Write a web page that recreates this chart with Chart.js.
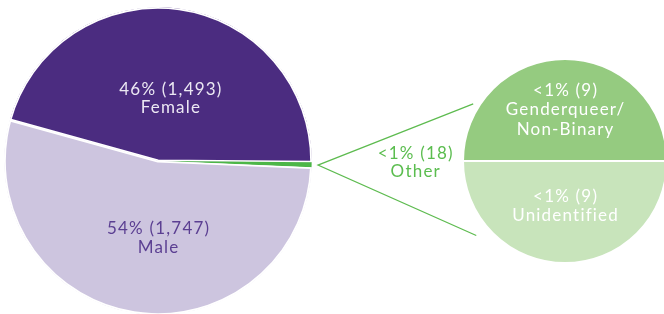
<!DOCTYPE html>
<html>
<head>
<meta charset="utf-8">
<script src="https://cdn.jsdelivr.net/npm/chart.js@4.4.1/dist/chart.umd.min.js"></script>
<style>
  html, body { margin: 0; padding: 0; background: #fff; overflow: hidden; }
  #wrap { position: relative; width: 664px; height: 314px; }
  canvas { position: absolute; left: 0; top: 0; }
</style>
</head>
<body>
<div id="wrap">
  <canvas id="mainChart" width="664" height="314"></canvas>
  <canvas id="otherChart" width="664" height="314"></canvas>
</div>
<script>
// data
const genders = ['Female', 'Other', 'Male'];
const genderCounts = [1493, 18, 1747];
const genderPct = ['46%', '<1%', '54%'];

const otherTypes = ['Genderqueer/\nNon-Binary', 'Unidentified'];
const otherCounts = [9, 9];
const otherPct = ['<1%', '<1%'];

const FONT = '400 17px Lato';

function fmt(n) { return n.toLocaleString('en-US'); }

function drawBlock(ctx, lines, x, y, color, lh) {
  ctx.save();
  ctx.font = FONT;
  ctx.letterSpacing = '1.2px';
  ctx.fillStyle = color;
  ctx.textAlign = 'center';
  ctx.textBaseline = 'middle';
  const top = y - (lines.length - 1) * lh / 2;
  // letterSpacing adds trailing space, nudge back by half of it
  lines.forEach((l, i) => ctx.fillText(l, x + 0.6, top + i * lh));
  ctx.restore();
}

// label placement, in units of the pie radius from its centre
const mainLabelPos = [{dx: 0.08, dy: -0.405, color: '#ece8f3'}, null, {dx: 0, dy: 0.5, color: '#5b3f92'}];
const otherLabelPos = [{dx: 0, dy: -0.5}, {dx: 0, dy: 0.44}];

const mainLabels = {
  id: 'mainLabels',
  afterDatasetsDraw(chart) {
    const ctx = chart.ctx;
    chart.getDatasetMeta(0).data.forEach((arc, i) => {
      const p = mainLabelPos[i];
      if (!p) return;
      const r = arc.outerRadius;
      drawBlock(ctx, [genderPct[i] + ' (' + fmt(genderCounts[i]) + ')', genders[i]],
        arc.x + p.dx * r, arc.y + p.dy * r, p.color, 18.5);
    });
  }
};

const mainChart = new Chart(document.getElementById('mainChart'), {
  type: 'pie',
  data: {
    labels: genders,
    datasets: [{
      data: genderCounts,
      backgroundColor: ['#4b2c80', '#4cb648', '#cdc5df'],
      borderColor: '#ffffff',
      borderWidth: [1.5, 0, 1.5],
      borderAlign: 'inner'
    }]
  },
  options: {
    responsive: false,
    animation: false,
    radius: 154,
    rotation: -74.5,
    layout: { padding: { left: 0, right: 348, top: 8, bottom: 0 } },
    plugins: { legend: { display: false }, tooltip: { enabled: false } }
  },
  plugins: [mainLabels]
});

const otherLabels = {
  id: 'otherLabels',
  afterDatasetsDraw(chart) {
    const ctx = chart.ctx;
    const arcs = chart.getDatasetMeta(0).data;
    arcs.forEach((arc, i) => {
      const p = otherLabelPos[i];
      const r = arc.outerRadius;
      const lines = [otherPct[i] + ' (' + otherCounts[i] + ')'].concat(otherTypes[i].split('\n'));
      drawBlock(ctx, lines, arc.x + p.dx * r, arc.y + p.dy * r, '#ffffff', 19.5);
    });

    // connector from the Other slice to the breakdown pie
    const src = mainChart.getDatasetMeta(0).data[1];
    const mid = (src.startAngle + src.endAngle) / 2;
    const sx = src.x + (src.outerRadius + 6) * Math.cos(mid);
    const sy = src.y + (src.outerRadius + 6) * Math.sin(mid);
    const c = arcs[0];
    const R = c.outerRadius;
    ctx.save();
    ctx.strokeStyle = '#5dbb4f';
    ctx.lineWidth = 1.2;
    ctx.beginPath();
    ctx.moveTo(c.x - 0.90 * R, c.y - 0.56 * R);
    ctx.lineTo(sx, sy);
    ctx.lineTo(c.x - 0.87 * R, c.y + 0.73 * R);
    ctx.stroke();
    ctx.restore();

    drawBlock(ctx, [genderPct[1] + ' (' + genderCounts[1] + ')', genders[1]],
      src.x + 1.67 * src.outerRadius, src.y + 2, '#5bbd4f', 18);
  }
};

new Chart(document.getElementById('otherChart'), {
  type: 'pie',
  data: {
    labels: otherTypes,
    datasets: [{
      data: otherCounts,
      backgroundColor: ['#95cb80', '#c8e4bb'],
      borderColor: '#ffffff',
      borderWidth: 2
    }]
  },
  options: {
    responsive: false,
    animation: false,
    radius: 102,
    rotation: -90,
    layout: { padding: { left: 466, right: 0, top: 8, bottom: 0 } },
    plugins: { legend: { display: false }, tooltip: { enabled: false } }
  },
  plugins: [otherLabels]
});
</script>
</body>
</html>
